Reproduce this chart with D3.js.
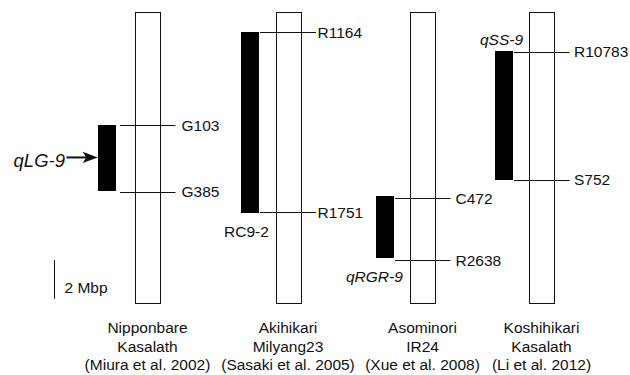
<!DOCTYPE html>
<html><head><meta charset="utf-8">
<script src="https://cdn.jsdelivr.net/npm/d3@7"></script>
<style>
html,body{margin:0;padding:0;background:#fff;}
svg{display:block;}
text{font-family:"Liberation Sans",Arial,sans-serif;font-size:15.5px;fill:#111;}
</style></head>
<body>
<svg id="chart" width="630" height="375"></svg>
<script>
// ---- data (Mbp from top of chromosome 9) ----
const studies = ["Miura", "Sasaki", "Xue", "Li"];
const parentA = ["Nipponbare", "Akihikari", "Asominori", "Koshihikari"];
const parentB = ["Kasalath", "Milyang23", "IR24", "Kasalath"];
const citations = ["(Miura et al. 2002)", "(Sasaki et al. 2005)", "(Xue et al. 2008)", "(Li et al. 2012)"];
const chromLength = [14.9, 14.9, 14.9, 14.9];
const qtlNames = ["qLG-9", "RC9-2", "qRGR-9", "qSS-9"];
const qtlStart = [5.78, 1.01, 9.45, 1.98];
const qtlEnd = [9.14, 10.31, 12.63, 8.6];
const markerUpper = ["G103", "R1164", "C472", "R10783"];
const markerUpperPos = [5.81, 1.03, 9.55, 2.04];
const markerLower = ["G385", "R1751", "R2638", "S752"];
const markerLowerPos = [9.21, 10.26, 12.73, 8.6];
const scaleBarMbp = 2;

// ---- layout ----
const svg = d3.select("#chart");
const y = d3.scaleLinear().domain([0, 14.9]).range([12, 302.5]);
const chrX = d3.scaleOrdinal().domain(studies).range([135, 275.5, 410, 529]);
const chrW = 25;
const barX = d3.scaleOrdinal().domain(studies).range([98, 241, 376, 495]);
const barW = 18;
const lineStartX = d3.scaleOrdinal().domain(studies).range([120, 260, 395, 514]);
const lineEndExtra = 15.5;
const labelGap = d3.scaleOrdinal().domain(studies).range([6, 1.5, 5, 4.5]);
const ink = "#111";
const crisp = v => Math.round(v) + 0.5;

const rows = studies.map((s, i) => ({
  s, i, len: chromLength[i], q0: qtlStart[i], q1: qtlEnd[i],
  markers: [
    {name: markerUpper[i], pos: markerUpperPos[i]},
    {name: markerLower[i], pos: markerLowerPos[i]}
  ]
}));

const g = svg.append("g");

// chromosomes
g.selectAll("rect.chr").data(rows).join("rect")
  .attr("class", "chr")
  .attr("x", d => crisp(chrX(d.s)))
  .attr("y", d => crisp(y(0)))
  .attr("width", chrW)
  .attr("height", d => Math.round(y(d.len) - y(0)))
  .attr("fill", "#fff").attr("stroke", ink).attr("stroke-width", 1);

// marker lines & labels
rows.forEach(d => {
  const x0 = lineStartX(d.s);
  const x1 = chrX(d.s) + chrW + lineEndExtra;
  d.markers.forEach(m => {
    g.append("line")
      .attr("x1", x0).attr("x2", x1)
      .attr("y1", crisp(y(m.pos))).attr("y2", crisp(y(m.pos)))
      .attr("stroke", ink).attr("stroke-width", 1);
    g.append("text")
      .attr("x", x1 + labelGap(d.s))
      .attr("y", y(m.pos) + 5.5)
      .text(m.name);
  });
});

// QTL bars
g.selectAll("rect.qtl").data(rows).join("rect")
  .attr("class", "qtl")
  .attr("x", d => barX(d.s))
  .attr("y", d => Math.round(y(d.q0)))
  .attr("width", barW)
  .attr("height", d => Math.round(y(d.q1) - y(d.q0)))
  .attr("fill", "#000");

// QTL labels
// qLG-9 with arrow
const r0 = rows[0];
const arrowY = (y(r0.q0) + y(r0.q1)) / 2;
const tipX = barX(r0.s) - 0.3;
g.append("text").attr("x", 65).attr("y", arrowY + 9.2)
  .attr("text-anchor", "end").attr("font-style", "italic")
  .style("font-size", "18.5px").text(qtlNames[0]);
g.append("line").attr("x1", 66.5).attr("x2", tipX - 10)
  .attr("y1", arrowY).attr("y2", arrowY)
  .attr("stroke", ink).attr("stroke-width", 2);
g.append("path")
  .attr("d", `M${tipX},${arrowY} L${tipX - 15},${arrowY - 5.6} L${tipX - 11.5},${arrowY} L${tipX - 15},${arrowY + 5.6} Z`)
  .attr("fill", ink);

// RC9-2 below bar
g.append("text").attr("x", 224).attr("y", y(rows[1].q1) + 23.5).text(qtlNames[1]);
// qRGR-9 below bar, italic
g.append("text").attr("x", 346).attr("y", y(rows[2].q1) + 24)
  .attr("font-style", "italic").text(qtlNames[2]);
// qSS-9 above bar, italic
g.append("text").attr("x", 480).attr("y", y(rows[3].q0) - 6)
  .attr("font-style", "italic").text(qtlNames[3]);

// scale bar
const sb0 = 260, sbH = y(scaleBarMbp) - y(0);
g.append("line").attr("x1", 54.5).attr("x2", 54.5)
  .attr("y1", sb0).attr("y2", sb0 + sbH)
  .attr("stroke", ink).attr("stroke-width", 1);
g.append("text").attr("x", 64.5).attr("y", 292.5).text(scaleBarMbp + " Mbp");

// bottom captions
const cap = g.selectAll("g.cap").data(rows).join("g").attr("class", "cap")
  .attr("transform", d => `translate(${chrX(d.s) + chrW / 2},0)`);
cap.append("text").attr("text-anchor", "middle").attr("y", 333).text(d => parentA[d.i]);
cap.append("text").attr("text-anchor", "middle").attr("y", 351.5).text(d => parentB[d.i]);
cap.append("text").attr("text-anchor", "middle").attr("y", 370).text(d => citations[d.i]);
</script>
</body></html>
